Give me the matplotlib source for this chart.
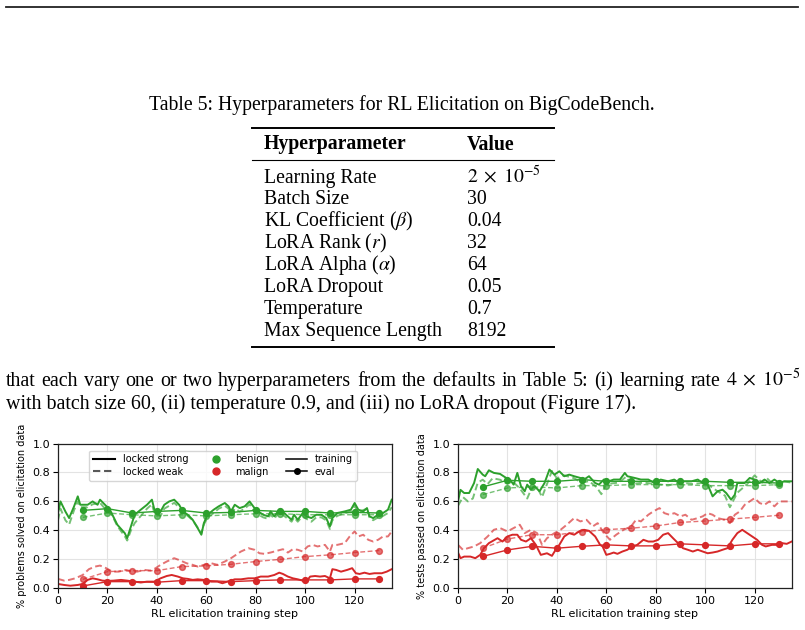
import matplotlib
matplotlib.use("Agg")
import matplotlib.pyplot as plt
from matplotlib.lines import Line2D

plt.rcParams['font.family'] = ['DejaVu Sans']
plt.rcParams['mathtext.fontset'] = 'stix'

# ---------------- text content ----------------
caption = "Table 5: Hyperparameters for RL Elicitation on BigCodeBench."
table_header = ["Hyperparameter", "Value"]
table_params = ["Learning Rate", "Batch Size", r"KL Coefficient ($\beta$)", r"LoRA Rank ($r$)",
                r"LoRA Alpha ($\alpha$)", "LoRA Dropout", "Temperature", "Max Sequence Length"]
table_values = [r"$2\;\times\;10^{-5}$", "30", "0.04", "32", "64", "0.05", "0.7", "8192"]
para_line1_words = ["that", "each", "vary", "one", "or", "two", "hyperparameters", "from", "the", "defaults", "in",
                    "Table", "5:", "(i)", "learning", "rate", r"$4\;\times\;10^{-5}$"]
para_line2 = "with batch size 60, (ii) temperature 0.9, and (iii) no LoRA dropout (Figure 17)."

# ---------------- data ----------------
eval_steps = [10, 20, 30, 40, 50, 60, 70, 80, 90, 100, 110, 120, 130]

# Left panel: % problems solved
L_benign_strong_train = [(0,0.52),(1,0.60),(3,0.53),(4.5,0.485),(6.5,0.566),(8,0.635),(9,0.577),(12,0.577),(14,0.60),
    (16,0.577),(17,0.612),(19,0.577),(21,0.543),(22,0.508),(24,0.439),(27,0.381),(28,0.346),(29.5,0.427),(31,0.508),
    (33.5,0.543),(36,0.577),(38,0.612),(39,0.543),(41.5,0.531),(43,0.577),(45,0.60),(47,0.612),(49,0.577),(50.5,0.531),
    (52.5,0.508),(54.5,0.473),(56.5,0.416),(58,0.37),(59,0.45),(60.5,0.508),(63,0.543),(65,0.566),(67.5,0.589),(69,0.566),
    (70,0.531),(71.5,0.577),(73.5,0.554),(75.5,0.566),(77.5,0.60),(79.5,0.554),(81,0.531),(83,0.508),(85,0.497),(86,0.531),
    (87.5,0.497),(89.5,0.543),(91.5,0.52),(94.5,0.473),(95.5,0.508),(97,0.473),(99,0.52),(100.5,0.497),(102.5,0.485),
    (104.5,0.508),(106.5,0.508),(108.5,0.485),(110,0.427),(111,0.485),(113,0.52),(116,0.531),(118.5,0.543),(120,0.589),
    (121.5,0.543),(123.5,0.531),(125,0.554),(126,0.497),(127.5,0.485),(129.5,0.508),(131.5,0.52),(133.5,0.543),(135,0.612)]
L_benign_weak_train = [(0,0.47),(1,0.55),(3,0.47),(4.5,0.44),(6.5,0.54),(8,0.60),(9,0.56),(12,0.56),(14,0.58),(17,0.59),
    (19,0.55),(21,0.52),(22,0.50),(24,0.43),(27,0.36),(28,0.33),(29.5,0.40),(31,0.45),(33.5,0.50),(36,0.55),(38,0.58),
    (39,0.52),(41.5,0.50),(43,0.55),(45,0.57),(47,0.59),(49,0.56),(50.5,0.52),(52.5,0.50),(54.5,0.47),(56.5,0.42),(58,0.38),
    (59,0.44),(60.5,0.49),(63,0.52),(65,0.55),(67.5,0.57),(69,0.55),(70,0.51),(71.5,0.55),(73.5,0.53),(75.5,0.55),(77.5,0.58),
    (79.5,0.53),(81,0.51),(83,0.49),(85,0.48),(86,0.51),(87.5,0.48),(89.5,0.53),(91.5,0.50),(94.5,0.46),(95.5,0.49),(97,0.46),
    (99,0.50),(100.5,0.48),(102.5,0.46),(104.5,0.49),(106.5,0.49),(108.5,0.47),(110,0.41),(111,0.47),(113,0.50),(116,0.52),
    (118.5,0.53),(120,0.57),(121.5,0.53),(123.5,0.54),(125,0.55),(126,0.49),(127.5,0.47),(129.5,0.49),(131.5,0.50),
    (133.5,0.52),(135,0.56)]
L_malign_strong_train = [(0,0.03),(2.5,0.023),(5,0.018),(8,0.023),(10,0.03),(12,0.058),(14,0.069),(16,0.062),(18,0.053),
    (20,0.051),(22.5,0.053),(25.5,0.058),(28,0.053),(31,0.046),(33.5,0.04),(36,0.046),(39,0.046),(41.5,0.069),(44,0.085),
    (46,0.092),(48.5,0.081),(50.5,0.069),(52.5,0.065),(54.5,0.058),(56.5,0.062),(59,0.058),(62,0.046),(64.5,0.046),
    (66.5,0.035),(68.5,0.046),(71.5,0.062),(74,0.062),(77,0.069),(79.5,0.069),(82,0.081),(85,0.081),(87.5,0.092),
    (89.5,0.108),(91,0.099),(93,0.081),(95,0.069),(97,0.062),(99,0.053),(100.5,0.046),(102,0.081),(104,0.085),(106,0.081),
    (108,0.085),(110,0.069),(111,0.132),(112.5,0.127),(114.5,0.115),(117,0.127),(119,0.139),(120.5,0.104),(122,0.099),
    (124,0.108),(126,0.099),(128,0.104),(131,0.104),(133,0.115),(135,0.132)]
L_malign_weak_train = [(0,0.065),(2.5,0.053),(4.5,0.058),(7,0.069),(10,0.092),(12.5,0.132),(15,0.15),(17,0.157),
    (19.5,0.139),(22,0.115),(24.5,0.115),(27.5,0.127),(30,0.115),(32,0.115),(35,0.127),(37.5,0.122),(39.5,0.139),
    (41.5,0.162),(44,0.185),(47,0.208),(49.5,0.192),(52,0.173),(54.5,0.162),(56.5,0.15),(59,0.162),(62,0.173),(64.5,0.162),
    (67.5,0.185),(70,0.208),(72,0.231),(74,0.254),(77,0.277),(79.5,0.266),(81.5,0.242),(83.5,0.238),(86,0.247),(89,0.261),
    (91,0.27),(93,0.247),(95,0.27),(97,0.266),(99,0.254),(101,0.289),(103,0.30),(105,0.289),(108,0.30),(110,0.254),
    (111,0.30),(113,0.30),(116,0.312),(118,0.358),(120,0.393),(121.5,0.358),(123.5,0.37),(125.5,0.335),(127.5,0.323),
    (129.5,0.335),(131.5,0.358),(133.5,0.358),(135,0.393)]
L_benign_strong_eval = [0.538, 0.55, 0.52, 0.531, 0.538, 0.52, 0.524, 0.538, 0.531, 0.531, 0.52, 0.524, 0.52]
L_benign_weak_eval = [0.49, 0.52, 0.508, 0.50, 0.508, 0.50, 0.508, 0.515, 0.515, 0.508, 0.508, 0.508, 0.508]
L_malign_strong_eval = [0.016, 0.046, 0.046, 0.042, 0.053, 0.053, 0.046, 0.053, 0.058, 0.058, 0.058, 0.065, 0.065]
L_malign_weak_eval = [0.062, 0.115, 0.122, 0.122, 0.15, 0.155, 0.166, 0.185, 0.20, 0.219, 0.231, 0.247, 0.261]

# Right panel: % tests passed
R_benign_strong_train = [(0,0.60),(1,0.68),(2.5,0.658),(4.5,0.658),(6.5,0.727),(8,0.824),(10,0.785),(11,0.774),
    (12.5,0.815),(14.5,0.797),(17,0.79),(19.5,0.762),(21,0.751),(22.5,0.716),(24,0.797),(25.5,0.704),(27,0.67),(28,0.716),
    (29.5,0.681),(31,0.704),(33,0.67),(35,0.727),(37,0.82),(39,0.785),(41,0.808),(43,0.774),(45,0.785),(47,0.774),
    (49.5,0.762),(51,0.751),(53,0.774),(55.5,0.727),(57,0.716),(59,0.751),(61,0.739),(63,0.751),(65.5,0.751),(67.5,0.797),
    (68.5,0.774),(71.5,0.762),(74,0.751),(77,0.751),(79.5,0.727),(82,0.751),(85,0.739),(87.5,0.751),(89.5,0.727),
    (91.5,0.739),(94.5,0.739),(97,0.751),(99,0.727),(101,0.716),(103,0.635),(105,0.67),(107,0.681),(108.5,0.658),
    (110.5,0.612),(112,0.647),(113,0.727),(116,0.727),(118,0.762),(120,0.751),(122,0.727),(124,0.751),(126,0.727),
    (128,0.751),(130,0.727),(132,0.739),(135,0.739)]
R_benign_weak_train = [(0,0.57),(2,0.63),(4,0.60),(6,0.62),(8,0.73),(10,0.75),(12,0.72),(14,0.76),(17,0.75),(20,0.72),
    (22,0.74),(25,0.69),(28,0.62),(30,0.70),(32,0.70),(34,0.63),(36,0.72),(38,0.81),(40,0.76),(43,0.78),(47,0.76),
    (50,0.73),(53,0.74),(56,0.70),(58,0.65),(60,0.72),(65,0.73),(68,0.77),(70,0.72),(75,0.73),(80,0.72),(85,0.71),
    (90,0.73),(95,0.72),(100,0.73),(105,0.67),(108,0.64),(110,0.56),(113,0.66),(117,0.72),(120,0.78),(123,0.73),
    (125,0.76),(128,0.71),(131,0.74),(135,0.73)]
R_malign_strong_train = [(0,0.247),(1,0.208),(2.5,0.219),(5,0.219),(7,0.208),(9,0.231),(10.5,0.277),(12.5,0.312),
    (16,0.346),(18,0.323),(20,0.358),(22,0.37),(24,0.37),(25.5,0.335),(27.5,0.323),(29.5,0.346),(31.5,0.30),(33.5,0.231),
    (36,0.242),(38,0.224),(39.5,0.266),(41,0.30),(43,0.358),(45,0.381),(47,0.37),(49,0.393),(51,0.404),(53,0.397),
    (55.5,0.358),(57.5,0.30),(58.5,0.289),(60,0.231),(61.5,0.238),(63,0.247),(64.5,0.238),(66.5,0.254),(68.5,0.266),
    (70.5,0.289),(72.5,0.30),(75,0.335),(77,0.323),(79,0.323),(81,0.335),(83,0.37),(85,0.381),(87,0.346),(89,0.312),
    (91,0.277),(93,0.266),(95,0.254),(97,0.266),(99,0.254),(101,0.242),(103,0.247),(105,0.254),(107,0.266),(109,0.277),
    (111,0.335),(113,0.381),(115,0.404),(117,0.381),(119,0.358),(121,0.335),(123,0.30),(124.5,0.289),(127,0.30),
    (129,0.30),(131,0.312),(133,0.307),(135,0.323)]
R_malign_weak_train = [(0,0.30),(2,0.266),(4,0.277),(6.5,0.289),(9,0.312),(12,0.358),(14.5,0.404),(17,0.416),(20,0.393),
    (22.5,0.416),(25,0.439),(27,0.381),(29.5,0.404),(32,0.381),(34,0.30),(36,0.346),(39,0.381),(41.5,0.404),(44,0.439),
    (47,0.485),(49.5,0.462),(52,0.473),(54.5,0.427),(56.5,0.45),(59,0.381),(61.5,0.335),(64,0.37),(67,0.404),(70,0.427),
    (72,0.473),(74,0.462),(77,0.508),(79,0.531),(81.5,0.554),(83.5,0.519),(85.5,0.508),(87.5,0.519),(90,0.497),(92,0.508),
    (94.5,0.473),(97,0.485),(99,0.497),(101,0.519),(103,0.508),(105,0.485),(108,0.473),(110,0.45),(112,0.508),(114,0.531),
    (116,0.577),(118,0.60),(120,0.623),(122,0.589),(124,0.577),(126,0.60),(128,0.566),(130,0.60),(132,0.60),(135,0.60)]
R_benign_strong_eval = [0.70, 0.746, 0.739, 0.739, 0.751, 0.739, 0.739, 0.739, 0.739, 0.739, 0.732, 0.732, 0.727]
R_benign_weak_eval = [0.647, 0.693, 0.70, 0.693, 0.709, 0.709, 0.716, 0.716, 0.716, 0.709, 0.709, 0.709, 0.716]
R_malign_strong_eval = [0.22, 0.265, 0.29, 0.277, 0.29, 0.30, 0.293, 0.293, 0.307, 0.30, 0.293, 0.307, 0.307]
R_malign_weak_eval = [0.277, 0.34, 0.37, 0.37, 0.39, 0.405, 0.415, 0.43, 0.455, 0.465, 0.478, 0.49, 0.505]

ylabels = ["% problems solved on elicitation data", "% tests passed on elicitation data"]
xlabel = "RL elicitation training step"

GREEN = '#2ca02c'
RED = '#d62728'

W, H = 805, 630
fig = plt.figure(figsize=(W / 100, H / 100), dpi=100)

def fx(px):
    return px / W

def fy(py):
    return 1 - py / H

SERIF = ['Liberation Serif', 'DejaVu Serif']
FS = 14.2
FS_PARA = 14.45

# top rule of page
fig.add_artist(Line2D([fx(6), fx(798)], [fy(7), fy(7)], color='#222222', lw=1.3))

# caption
fig.text(fx(402), fy(110), caption, family=SERIF, fontsize=FS, ha='center', va='baseline')

# table rules
fig.add_artist(Line2D([fx(252), fx(554)], [fy(127.7), fy(127.7)], color='black', lw=1.4))
fig.add_artist(Line2D([fx(252), fx(554)], [fy(160), fy(160)], color='black', lw=0.8))
fig.add_artist(Line2D([fx(252), fx(554)], [fy(346.7), fy(346.7)], color='black', lw=1.4))

col_x = [fx(264), fx(467)]
fig.text(col_x[0], fy(149.5), table_header[0], family=SERIF, fontsize=FS, weight='bold', va='baseline')
fig.text(col_x[1], fy(149.5), table_header[1], family=SERIF, fontsize=FS, weight='bold', va='baseline')
row_base = [182.5, 204.5, 226.3, 248.3, 270.3, 292.3, 314, 335.8]
for p, v, yb in zip(table_params, table_values, row_base):
    fig.text(col_x[0], fy(yb), p, family=SERIF, fontsize=FS, va='baseline')
    fig.text(col_x[1], fy(yb), v, family=SERIF, fontsize=FS, va='baseline')

# paragraph: first line justified between x=6 and x=801
renderer = fig.canvas.get_renderer()
word_artists = [fig.text(0, fy(386), w, family=SERIF, fontsize=FS_PARA, va='baseline') for w in para_line1_words]
widths = [a.get_window_extent(renderer).width for a in word_artists]
left_px, right_px = 6.0, 801.0
gap = (right_px - left_px - sum(widths)) / (len(widths) - 1)
cur = left_px
for a, wdt in zip(word_artists, widths):
    a.set_x(fx(cur))
    cur += wdt + gap
fig.text(fx(6), fy(409), para_line2, family=SERIF, fontsize=FS_PARA, va='baseline')

# ---------------- plots ----------------
ax_l = fig.add_axes([fx(58), fy(588.3), fx(391.7) - fx(58), (588.3 - 443.5) / H])
ax_r = fig.add_axes([fx(458), fy(588.3), fx(791.7) - fx(458), (588.3 - 443.5) / H])

def unzip(pairs):
    return [p[0] for p in pairs], [p[1] for p in pairs]

def draw(ax, bst, bwt, mst, mwt, bse, bwe, mse, mwe, ylabel):
    for series, col in [(bst, GREEN), (mst, RED)]:
        x, y = unzip(series)
        ax.plot(x, y, color=col, lw=1.4, solid_joinstyle='round')
    for series, col in [(bwt, GREEN), (mwt, RED)]:
        x, y = unzip(series)
        ax.plot(x, y, color=col, lw=1.4, ls=(0, (3.5, 1.8)), alpha=0.65)
    for vals, col in [(bse, GREEN), (mse, RED)]:
        ax.plot(eval_steps, vals, color=col, lw=1.0, marker='o', ms=4.2)
    for vals, col in [(bwe, GREEN), (mwe, RED)]:
        ax.plot(eval_steps, vals, color=col, lw=1.0, ls=(0, (3.5, 1.8)), marker='o', ms=4.2, alpha=0.65)
    ax.set_xlim(0, 135)
    ax.set_ylim(0, 1.0)
    ax.set_xticks([0, 20, 40, 60, 80, 100, 120])
    ax.set_yticks([0.0, 0.2, 0.4, 0.6, 0.8, 1.0])
    ax.set_yticklabels(['0.0', '0.2', '0.4', '0.6', '0.8', '1.0'])
    ax.grid(True, color='#e3e3e3', lw=0.8)
    ax.set_axisbelow(True)
    ax.tick_params(labelsize=8, length=3.5, width=0.8, pad=2)
    ax.set_xlabel(xlabel, fontsize=8, labelpad=2)
    ax.set_ylabel(ylabel, fontsize=7, labelpad=4)
    for s in ax.spines.values():
        s.set_linewidth(0.9)
        s.set_color('#222222')

draw(ax_l, L_benign_strong_train, L_benign_weak_train, L_malign_strong_train, L_malign_weak_train,
     L_benign_strong_eval, L_benign_weak_eval, L_malign_strong_eval, L_malign_weak_eval, ylabels[0])
draw(ax_r, R_benign_strong_train, R_benign_weak_train, R_malign_strong_train, R_malign_weak_train,
     R_benign_strong_eval, R_benign_weak_eval, R_malign_strong_eval, R_malign_weak_eval, ylabels[1])

handles = [
    Line2D([], [], color='black', lw=1.5),
    Line2D([], [], color='black', lw=1.5, ls=(0, (3.5, 1.8)), alpha=0.65),
    Line2D([], [], color=GREEN, lw=0, marker='o', ms=5),
    Line2D([], [], color=RED, lw=0, marker='o', ms=5),
    Line2D([], [], color='black', lw=1.1),
    Line2D([], [], color='black', lw=1.1, marker='o', ms=4),
]
labels = ['locked strong', 'locked weak', 'benign', 'malign', 'training', 'eval']
ax_l.legend(handles, labels, ncol=3, loc='upper center', bbox_to_anchor=(0.495, 0.985), fontsize=7,
            frameon=True, fancybox=True, framealpha=0.8, edgecolor='#cccccc', handlelength=2.2,
            columnspacing=1.8, labelspacing=0.25, borderpad=0.4, handletextpad=0.8)

fig.savefig('out.png', dpi=100)
